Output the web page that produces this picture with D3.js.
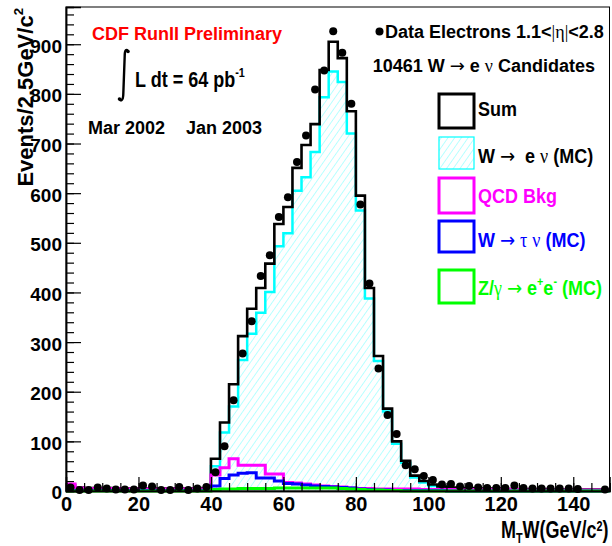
<!DOCTYPE html>
<html>
<head>
<meta charset="utf-8">
<script src="https://cdn.jsdelivr.net/npm/d3@7"></script>
<style>
  body { margin: 0; background: #fff; }
  svg { display: block; }
  text { font-family: "Liberation Sans", Arial, sans-serif; font-weight: bold; white-space: pre; }
</style>
</head>
<body>
<svg id="chart" width="612" height="546"></svg>
<script>
// M_T(W) histogram, 60 bins of 2.5 GeV from 0 to 150
const binWidth = 2.5;

const dataCounts = [7, 2, 2, 7, 5, 3, 3, 3, 11, 9, 2, 2, 8, 2, 5, 8,
  38, 90, 183, 277, 342, 433, 475, 552, 592, 663, 716, 809, 847, 926, 883, 780,
  577, 418, 247, 153, 115, 52, 44, 30, 22, 13, 14, 9, 10, 7, 6, 6,
  6, 11, 6, 5, 5, 5, 5, 5, 4, 0, 0, 3];

const sumCounts = [12, 7, 6, 6, 6, 5, 5, 5, 5, 5, 5, 5, 5, 5, 5, 6,
  65, 138, 215, 312, 367, 409, 458, 538, 572, 651, 697, 739, 848, 905, 872, 765,
  595, 409, 272, 166, 100, 61, 31, 20, 13, 9, 7, 6, 6, 5, 5, 5,
  4, 4, 4, 4, 4, 3, 3, 3, 3, 3, 3, 3];

const wenuCounts = [3, 2, 1, 1, 1, 1, 1, 1, 1, 1, 1, 1, 1, 1, 1, 1,
  50, 118, 170, 264, 317, 359, 401, 493, 519, 605, 632, 683, 793, 845, 824, 720,
  565, 388, 262, 160, 95, 57, 27, 17, 10, 7, 5, 4, 3, 3, 2, 2,
  2, 2, 2, 1, 1, 1, 1, 1, 1, 1, 1, 1];

const qcdCounts = [14, 6, 5, 5, 5, 5, 4, 4, 4, 4, 4, 4, 4, 4, 4, 4,
  32, 47, 65, 52, 52, 52, 34, 34, 17, 16, 14, 12, 10, 9, 8, 6,
  5, 5, 4, 4, 4, 4, 4, 3, 3, 3, 3, 3, 3, 3, 3, 3,
  3, 3, 2, 2, 2, 2, 2, 2, 2, 2, 2, 2];

const wtaunuCounts = [1, 1, 1, 1, 1, 1, 1, 1, 1, 1, 1, 1, 1, 1, 1, 1,
  10, 25, 32, 36, 37, 26, 26, 20, 15, 14, 12, 10, 9, 8, 7, 6,
  4, 3, 2, 2, 1, 1, 1, 1, 1, 1, 0, 0, 0, 0, 0, 0,
  0, 0, 0, 0, 0, 0, 0, 0, 0, 0, 0, 0];

const zeeCounts = [0, 0, 0, 0, 0, 0, 0, 0, 0, 0, 0, 0, 0, 0, 0, 0,
  3, 4, 4, 5, 5, 5, 5, 6, 6, 6, 6, 6, 6, 6, 5, 4,
  3, 2, 2, 1, 1, 0, 0, 0, 0, 0, 0, 0, 0, 0, 0, 0,
  0, 0, 0, 0, 0, 0, 0, 0, 0, 0, 0, 0];

const xTickValues = [0, 20, 40, 60, 80, 100, 120, 140];
const yTickValues = [0, 100, 200, 300, 400, 500, 600, 700, 800, 900];

const svg = d3.select('#chart');
const x = d3.scaleLinear().domain([0, 150]).range([66, 609.5]);
const y = d3.scaleLinear().domain([0, 975]).range([491, 7]);

// hatch for W -> e nu
const defs = svg.append('defs');
defs.append('pattern')
    .attr('id', 'hatch')
    .attr('patternUnits', 'userSpaceOnUse')
    .attr('width', 5.5).attr('height', 5.5)
    .attr('patternTransform', 'rotate(35)')
  .append('line')
    .attr('x1', 0).attr('y1', 0).attr('x2', 0).attr('y2', 5.5)
    .attr('stroke', '#00ffff').attr('stroke-width', 0.9).attr('opacity', 0.6);

function stepPoints(counts) {
    const pts = [];
    counts.forEach((v, i) => {
        pts.push([x(i * binWidth), y(v)]);
        pts.push([x((i + 1) * binWidth), y(v)]);
    });
    return pts;
}

const line = d3.line();

// W -> e nu filled area
const wenuPts = stepPoints(wenuCounts);
svg.append('path')
    .attr('d', line([[x(0), y(0)], ...wenuPts, [x(150), y(0)]]))
    .attr('fill', 'url(#hatch)');

function drawHist(counts, color, width) {
    svg.append('path')
        .attr('d', line(stepPoints(counts)))
        .attr('fill', 'none')
        .attr('stroke', color)
        .attr('stroke-width', width)
        .attr('stroke-linejoin', 'miter');
}

drawHist(wenuCounts, '#00ffff', 2.5);
drawHist(sumCounts, '#000', 2.6);
drawHist(qcdCounts, '#ff00ff', 3);
drawHist(wtaunuCounts, '#0000ff', 3);
drawHist(zeeCounts, '#00ff00', 3);

// data points
svg.append('g').selectAll('circle')
    .data(dataCounts.map((v, i) => ({ v, i })).filter(d => d.v > 0))
    .join('circle')
    .attr('cx', d => x((d.i + 0.5) * binWidth))
    .attr('cy', d => y(d.v))
    .attr('r', 4)
    .attr('fill', '#000');

// frame
svg.append('rect')
    .attr('x', x(0)).attr('y', y(975))
    .attr('width', x(150) - x(0)).attr('height', y(0) - y(975))
    .attr('fill', 'none').attr('stroke', '#000').attr('stroke-width', 1);

// axes
const yMinor = d3.range(0, 975, 20);
const xMinor = d3.range(0, 151, 5);

const yAxisMinor = svg.append('g').attr('transform', `translate(${x(0)},0)`)
    .call(d3.axisLeft(y).tickValues(yMinor).tickSize(-8).tickFormat(''));
const yAxis = svg.append('g').attr('transform', `translate(${x(0)},0)`)
    .call(d3.axisLeft(y).tickValues(yTickValues).tickSize(-15).tickPadding(4));
const xAxisMinor = svg.append('g').attr('transform', `translate(0,${y(0)})`)
    .call(d3.axisBottom(x).tickValues(xMinor).tickSize(-8).tickFormat(''));
const xAxis = svg.append('g').attr('transform', `translate(0,${y(0)})`)
    .call(d3.axisBottom(x).tickValues(xTickValues).tickSize(-14).tickPadding(6));

[yAxisMinor, yAxis, xAxisMinor, xAxis].forEach(g => {
    g.select('.domain').attr('stroke', '#000').attr('stroke-width', 1.5);
    g.selectAll('.tick line').attr('stroke', '#000').attr('stroke-width', 1.2);
});
yAxis.selectAll('.tick text')
    .attr('font-family', '"Liberation Sans", Arial, sans-serif')
    .attr('font-size', 19).attr('font-weight', 'bold').attr('fill', '#000')
    .attr('dy', '0.42em');
xAxis.selectAll('.tick text')
    .attr('font-family', '"Liberation Sans", Arial, sans-serif')
    .attr('font-size', 20).attr('font-weight', 'bold').attr('fill', '#000');

// rich text helper: parts with sym / arrow / sup / sub
function rich(parent, parts, fs, color, anchor, supRaise) {
    const t = parent.append('text')
        .attr('font-size', fs)
        .attr('fill', color || '#000')
        .attr('text-anchor', anchor || 'start');
    let shift = 0;
    parts.forEach(p => {
        const s = t.append('tspan').text(p.t);
        let off = 0;
        if (p.sup) off = -(supRaise || 0.45) * fs;
        if (p.sub) off = 0.2 * fs;
        if (off - shift !== 0) s.attr('dy', off - shift);
        shift = off;
        if (p.sup || p.sub) s.attr('font-size', 0.6 * fs);
        if (p.sym) s.attr('font-family', '"Liberation Serif", "DejaVu Serif", serif').attr('font-weight', 'normal');
        if (p.arrow) s.attr('font-family', '"DejaVu Sans", sans-serif').attr('font-weight', 'normal');
    });
    return t;
}

function place(xp, yp, sx, sy) {
    return svg.append('g').attr('transform', `translate(${xp},${yp}) scale(${sx || 1},${sy || 1})`);
}

// axis titles
rich(svg.append('g').attr('transform', 'translate(33,8) rotate(-90)'),
    [{ t: 'Events/2.5GeV/c' }, { t: '2', sup: true }], 22, '#000', 'end');
rich(place(608.5, 538, 0.9, 1.2),
    [{ t: 'M' }, { t: 'T', sub: true }, { t: 'W(GeV/c' }, { t: '2', sup: true }, { t: ')' }], 20, '#000', 'end', 0.3);

// annotations
rich(place(92, 39.5), [{ t: 'CDF RunII Preliminary' }], 18, '#ff0000');
rich(place(135, 86.5, 1, 1.2), [{ t: 'L dt = 64 pb' }, { t: '-1', sup: true }], 18);
svg.append('path')
    .attr('d', 'M 128 51.5 C 127 48.5, 124.6 49.5, 124.7 56 L 123.3 94 C 123.2 101, 120.2 101.5, 119.5 99')
    .attr('fill', 'none').attr('stroke', '#000').attr('stroke-width', 2.4);
svg.append('circle').attr('cx', 128).attr('cy', 51.5).attr('r', 1.8).attr('fill', '#000');
svg.append('circle').attr('cx', 119.5).attr('cy', 99).attr('r', 1.8).attr('fill', '#000');
rich(place(88, 133.5), [{ t: 'Mar 2002' }], 18);
rich(place(186, 133.5), [{ t: 'Jan 2003' }], 18);

svg.append('circle').attr('cx', 379.5).attr('cy', 31.5).attr('r', 4).attr('fill', '#000');
rich(place(385, 37.7), [{ t: 'Data Electrons 1.1<' }, { t: '|', sym: true }, { t: 'η', sym: true },
    { t: '|', sym: true }, { t: '<2.8' }], 18);
rich(place(372.7, 71.7), [{ t: '10461 W ' }, { t: '→', arrow: true }, { t: ' e ' }, { t: 'ν', sym: true },
    { t: ' Candidates' }], 18);

// legend
const legendItems = [
    { y0: 94, h: 34, stroke: '#000', sw: 3, fill: 'none', color: '#000', ty: 116,
      parts: [{ t: 'Sum' }] },
    { y0: 137, h: 32, stroke: '#00ffff', sw: 1.2, fill: 'url(#hatch)', color: '#000', ty: 163,
      parts: [{ t: 'W ' }, { t: '→', arrow: true }, { t: '  e ' }, { t: 'ν', sym: true }, { t: ' (MC)' }] },
    { y0: 178, h: 35, stroke: '#ff00ff', sw: 3, fill: 'none', color: '#ff00ff', ty: 203,
      parts: [{ t: 'QCD Bkg' }] },
    { y0: 221, h: 31, stroke: '#0000ff', sw: 3, fill: 'none', color: '#0000ff', ty: 247,
      parts: [{ t: 'W ' }, { t: '→', arrow: true }, { t: ' ' }, { t: 'τ', sym: true }, { t: ' ' },
        { t: 'ν', sym: true }, { t: ' (MC)' }] },
    { y0: 270, h: 33, stroke: '#00ff00', sw: 3, fill: 'none', color: '#00ff00', ty: 295,
      parts: [{ t: 'Z/' }, { t: 'γ', sym: true }, { t: ' ' }, { t: '→', arrow: true }, { t: ' e' },
        { t: '+', sup: true }, { t: 'e' }, { t: '-', sup: true }, { t: ' (MC)' }] }
];

legendItems.forEach(d => {
    svg.append('rect')
        .attr('x', 439).attr('y', d.y0)
        .attr('width', 35).attr('height', d.h)
        .attr('fill', d.fill).attr('stroke', d.stroke).attr('stroke-width', d.sw);
    rich(place(478, d.ty, 1, 1.12), d.parts, 18, d.color);
});
</script>
</body>
</html>
